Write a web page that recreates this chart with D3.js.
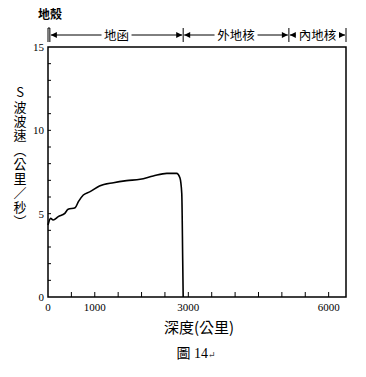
<!DOCTYPE html>
<html>
<head>
<meta charset="utf-8">
<script src="https://cdn.jsdelivr.net/npm/d3@7"></script>
<style>
  body { margin: 0; background: #fff; }
  svg { display: block; }
  .num { font-family: "Liberation Serif", "DejaVu Serif", serif; }
  .cjk { font-family: "Noto Sans CJK TC", "Noto Sans CJK SC", sans-serif; }
  .vert { writing-mode: vertical-rl; text-orientation: upright; }
</style>
</head>
<body>
<div id="chart"></div>
<script>
// S-wave velocity versus depth
const depthKm = [0, 55, 110, 220, 360, 430, 580, 650, 755, 900, 1100, 1400, 1680, 1970, 2250, 2540, 2750, 2820, 2860, 2880, 2890];
const sVelocity = [4.32, 4.72, 4.62, 4.82, 5.02, 5.26, 5.36, 5.72, 6.12, 6.32, 6.66, 6.86, 6.98, 7.06, 7.26, 7.42, 7.42, 7.15, 6.2, 2.2, 0];

// layers on the top bar
const layerNames = ['地函', '外地核', '內地核'];
const layerStart = [40, 2890, 5150];
const layerEnd = [2890, 5150, 6371];
const crustLabel = '地殼';
const crustEnd = 40;

const xTickValues = d3.range(500, 6001, 500);
const xLabelValues = [0, 1000, 3000, 6000];
const yTickValues = d3.range(1, 15, 1);
const yLabelValues = [0, 5, 10, 15];

const yTitle = 'S波波速（公里／秒）';
const xTitle = '深度(公里)';
const caption = '圖 14';

const width = 366;
const height = 377;
const margin = {top: 47, right: 20, bottom: 80, left: 48};

const x = d3.scaleLinear()
    .domain([0, 6371])
    .range([margin.left, width - margin.right]);

const y = d3.scaleLinear()
    .domain([0, 15])
    .range([height - margin.bottom, margin.top]);

const svg = d3.select('#chart')
  .append('svg')
    .attr('width', width)
    .attr('height', height);

// frame: left, bottom, top, right
const x0 = x.range()[0], x1 = x.range()[1];
const y0 = y.range()[0], y1 = y.range()[1];
svg.append('path')
    .attr('d', `M${x0},${y1}V${y0}H${x1}V${y1}Z`)
    .attr('fill', 'none')
    .attr('stroke', '#000')
    .attr('stroke-width', 1.5);

// inward ticks
svg.append('g')
  .selectAll('line')
  .data(xTickValues)
  .join('line')
    .attr('x1', d => x(d))
    .attr('x2', d => x(d))
    .attr('y1', y0)
    .attr('y2', y0 - 5)
    .attr('stroke', '#000')
    .attr('stroke-width', 1);

svg.append('g')
  .selectAll('line')
  .data(yTickValues)
  .join('line')
    .attr('x1', x0)
    .attr('x2', x0 + 3)
    .attr('y1', d => y(d))
    .attr('y2', d => y(d))
    .attr('stroke', '#000')
    .attr('stroke-width', 1);

svg.append('g')
  .selectAll('text')
  .data(xLabelValues)
  .join('text')
    .attr('class', 'num')
    .attr('x', d => x(d))
    .attr('y', y0 + 14)
    .attr('text-anchor', 'middle')
    .attr('font-size', 11)
    .text(d => d);

svg.append('g')
  .selectAll('text')
  .data(yLabelValues)
  .join('text')
    .attr('class', 'num')
    .attr('x', x0 - 4)
    .attr('y', d => y(d) + 4)
    .attr('text-anchor', 'end')
    .attr('font-size', 11)
    .text(d => d);

// the curve
const line = d3.line()
    .x((d, i) => x(depthKm[i]))
    .y(d => y(d))
    .curve(d3.curveMonotoneX);

svg.append('path')
    .datum(sVelocity)
    .attr('d', line)
    .attr('fill', 'none')
    .attr('stroke', '#000')
    .attr('stroke-width', 1.6);

// axis titles
svg.append('text')
    .attr('class', 'cjk vert')
    .attr('x', 20)
    .attr('y', 86)
    .attr('font-size', 13)
    .attr('letter-spacing', 1.3)
    .text(yTitle);

svg.append('text')
    .attr('class', 'cjk')
    .attr('x', (x0 + x1) / 2 + 2)
    .attr('y', y0 + 36)
    .attr('text-anchor', 'middle')
    .attr('font-size', 15)
    .text(xTitle);

svg.append('text')
    .attr('x', 196)
    .attr('y', 358)
    .attr('text-anchor', 'middle')
    .call(t => t.append('tspan')
        .attr('class', 'cjk')
        .attr('font-size', 14)
        .text(caption.split(' ')[0]))
    .call(t => t.append('tspan')
        .attr('class', 'num')
        .attr('font-size', 14)
        .text(' ' + caption.split(' ')[1]))
    .call(t => t.append('tspan')
        .attr('class', 'num')
        .attr('font-size', 9)
        .attr('fill', '#444')
        .text('↵'));

// layer bar on top
const barY = 35;
const defs = svg.append('defs');
defs.append('marker')
    .attr('id', 'head')
    .attr('viewBox', '0 0 10 10')
    .attr('refX', 10)
    .attr('refY', 5)
    .attr('markerWidth', 7)
    .attr('markerHeight', 6)
    .attr('markerUnits', 'userSpaceOnUse')
    .attr('orient', 'auto-start-reverse')
  .append('path')
    .attr('d', 'M0,0L10,5L0,10Z')
    .attr('fill', '#000');

const bounds = [0, crustEnd, ...layerEnd];
svg.append('g')
  .selectAll('line')
  .data(bounds)
  .join('line')
    .attr('x1', d => x(d))
    .attr('x2', d => x(d))
    .attr('y1', barY - 7)
    .attr('y2', barY + 7)
    .attr('stroke', '#000')
    .attr('stroke-width', 1);

svg.append('line')
    .attr('x1', x(0))
    .attr('x2', x(crustEnd))
    .attr('y1', barY - 7)
    .attr('y2', barY - 7)
    .attr('stroke', '#000');

const layers = svg.append('g')
  .selectAll('g')
  .data(layerNames)
  .join('g');

layers.append('line')
    .attr('x1', (d, i) => x(layerStart[i]) + 1)
    .attr('x2', (d, i) => x(layerEnd[i]) - 1)
    .attr('y1', barY)
    .attr('y2', barY)
    .attr('stroke', '#000')
    .attr('stroke-width', 1)
    .attr('marker-start', 'url(#head)')
    .attr('marker-end', 'url(#head)');

layers.append('rect')
    .attr('x', (d, i) => (x(layerStart[i]) + x(layerEnd[i])) / 2 - d.length * 6.5 - 2)
    .attr('y', barY - 8)
    .attr('width', d => d.length * 13 + 4)
    .attr('height', 16)
    .attr('fill', '#fff');

layers.append('text')
    .attr('class', 'cjk')
    .attr('x', (d, i) => (x(layerStart[i]) + x(layerEnd[i])) / 2)
    .attr('y', barY + 4.5)
    .attr('text-anchor', 'middle')
    .attr('font-size', 12.5)
    .text(d => d);

svg.append('text')
    .attr('class', 'cjk')
    .attr('x', 50)
    .attr('y', 19)
    .attr('text-anchor', 'middle')
    .attr('font-size', 12)
    .attr('font-weight', 'bold')
    .text(crustLabel);
</script>
</body>
</html>
